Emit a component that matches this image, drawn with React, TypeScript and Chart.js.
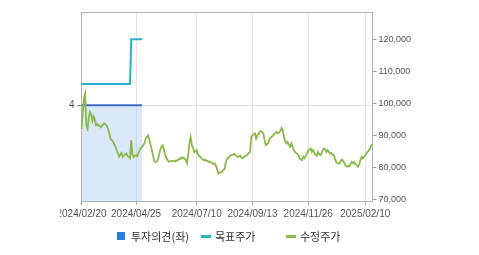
import React, { useEffect, useRef } from "react";
import { Chart, registerables } from "chart.js";

Chart.register(...registerables);

// ---- data ----
const startDate = "2024-02-20";
const dayCount = 241;
const holidays = [
  "2024-03-01", "2024-04-10", "2024-05-01", "2024-05-06", "2024-05-15", "2024-06-06",
  "2024-08-15", "2024-09-16", "2024-09-17", "2024-09-18", "2024-10-01", "2024-10-03",
  "2024-10-09", "2024-12-25", "2024-12-31", "2025-01-01", "2025-01-27", "2025-01-28",
  "2025-01-29", "2025-01-30",
];
const xTickLabels = ["2024/02/20", "2024/04/25", "2024/07/10", "2024/09/13", "2024/11/26", "2025/02/10"];
const rightTicks = [70000, 80000, 90000, 100000, 110000, 120000];
const leftTicks = [4];

// 수정주가 (adjusted close), one value per trading day
const adjPrice = [
  92000, 97000, 101500, 103000, 93000, 92000, 95500, 97300, 96500, 94500,
  95800, 95000, 93200, 93500, 93000, 93000, 92500, 93000, 93500, 93800,
  93300, 93000, 91800, 90500, 88800, 88500, 88000, 87200, 86500, 85400,
  84500, 83300, 84000, 84500, 83300, 83800, 84000, 84300, 83500, 83300,
  82800, 88500, 84000, 83200, 83600, 83800, 83500, 84500, 85400, 86000,
  86400, 87000, 87500, 89100, 89500, 90000, 88500, 87000, 85500, 83800,
  82000, 81700, 81800, 82500, 84000, 85500, 86500, 86900, 85500, 84000,
  83000, 82300, 81800, 82000, 81800, 82000, 82000, 81800, 82200, 82000,
  82500, 82800, 82600, 83200, 83000, 82700, 82400, 81300, 84000, 87500,
  89500, 87000, 86000, 84800, 85000, 85400, 84000, 83500, 83300, 82800,
  82500, 82200, 82400, 82000, 82000, 81700, 81800, 81500, 81300, 81000,
  81200, 80500, 79100, 78100, 78300, 78500, 78700, 79200, 79500, 81500,
  82500, 83000, 83300, 83800, 84000, 84000, 84200, 83800, 83500, 83200,
  83500, 83600, 83000, 82800, 83300, 83500, 83700, 84000, 84500, 84800,
  89500, 90000, 90300, 90600, 89000, 90000, 90600, 91100, 91400, 91000,
  90500, 88500, 86900, 87200, 87600, 88800, 89200, 89600, 90000, 90400,
  90700, 91100, 90600, 90900, 91300, 92200, 91600, 89500, 88200, 87500,
  88000, 87000, 86400, 87500, 86500, 85400, 84800, 84500, 84300, 83800,
  82800, 82400, 82300, 83300, 82800, 83600, 84300, 85400, 85600, 85900,
  84800, 85400, 84500, 83800, 83600, 84800, 84200, 83800, 84300, 85400,
  85900, 85600, 84800, 85400, 84800, 84300, 84500, 84000, 83800, 82800,
  81700, 81400, 81200, 81300, 82200, 82400, 81800, 81200, 80400, 80200,
  80500, 80400, 81200, 81700, 81200, 81700, 81000, 80700, 80200, 80800,
  82200, 83300, 82800, 83300, 83800, 84300, 84800, 85400, 85900, 86900,
  87200,
];

// 목표주가 (target price) segments: [fromIndex, toIndex, value]
const targetSegments: [number, number, number][] = [
  [0, 40, 106000],
  [41, 50, 120000],
];
// 투자의견 (opinion, left axis) segments
const opinionSegments: [number, number, number][] = [[0, 50, 4]];

// ---- helpers ----
function buildTradingDays(start: string, count: number): string[] {
  const out: string[] = [];
  const d = new Date(start + "T00:00:00Z");
  while (out.length < count) {
    const dow = d.getUTCDay();
    const iso = d.toISOString().slice(0, 10);
    if (dow !== 0 && dow !== 6 && !holidays.includes(iso)) out.push(iso.replace(/-/g, "/"));
    d.setUTCDate(d.getUTCDate() + 1);
  }
  return out;
}

function fromSegments(segs: [number, number, number][], n: number): (number | null)[] {
  const arr: (number | null)[] = new Array(n).fill(null);
  segs.forEach(([a, b, v]) => {
    for (let i = a; i <= b; i++) arr[i] = v;
  });
  return arr;
}

const legendItems = [
  { label: "투자의견(좌)", color: "#2d7be0", kind: "box", left: 117 },
  { label: "목표주가", color: "#22b3c6", kind: "line", left: 201 },
  { label: "수정주가", color: "#8cb84a", kind: "line", left: 286 },
];

const framePlugin = {
  id: "frameTop",
  afterDraw(chart: any) {
    const { ctx, chartArea } = chart;
    ctx.save();
    ctx.strokeStyle = "#b4b4b4";
    ctx.lineWidth = 1;
    ctx.beginPath();
    ctx.moveTo(chartArea.left, Math.floor(chartArea.top) + 0.5);
    ctx.lineTo(chartArea.right, Math.floor(chartArea.top) + 0.5);
    ctx.stroke();
    ctx.restore();
  },
};

const CLIP_LEFT = 60;

export default function App() {
  const canvasRef = useRef<HTMLCanvasElement | null>(null);

  useEffect(() => {
    if (!canvasRef.current) return;
    const labels = buildTradingDays(startDate, dayCount);
    const tickIdx = xTickLabels.map((l) => labels.indexOf(l)).filter((i) => i >= 0);
    const target = fromSegments(targetSegments, dayCount);
    const opinion = fromSegments(opinionSegments, dayCount);
    const tickFont = { family: "'Liberation Sans', Arial, sans-serif", size: 10 };

    const chart = new Chart(canvasRef.current, {
      type: "line",
      data: {
        labels,
        datasets: [
          {
            label: "수정주가",
            data: adjPrice,
            yAxisID: "y",
            borderColor: "#8cb84a",
            borderWidth: 1.8,
            pointRadius: 0,
            tension: 0,
            fill: false,
          },
          {
            label: "목표주가",
            data: target,
            yAxisID: "y",
            borderColor: "#22b3c6",
            borderWidth: 2,
            pointRadius: 0,
            tension: 0,
            fill: false,
            spanGaps: false,
          },
          {
            label: "투자의견(좌)",
            data: opinion,
            yAxisID: "y1",
            borderColor: "#3a6dc2",
            backgroundColor: "rgba(120,170,235,0.27)",
            borderWidth: 2,
            pointRadius: 0,
            tension: 0,
            fill: "start",
            spanGaps: false,
          },
        ],
      },
      options: {
        responsive: false,
        animation: false,
        layout: { padding: { left: 0, right: 0, top: 12, bottom: 0 } },
        plugins: { legend: { display: false }, tooltip: { enabled: false } },
        scales: {
          x: {
            type: "category",
            grid: { color: "#e6e6e6", tickColor: "#aaaaaa", tickLength: 4, drawOnChartArea: true },
            border: { color: "#b4b4b4" },
            ticks: { autoSkip: false, maxRotation: 0, color: "#555", font: tickFont, padding: 3 },
            afterBuildTicks: (scale: any) => {
              scale.ticks = tickIdx.map((v) => ({ value: v }));
            },
            afterFit: (scale: any) => {
              scale.height = 54;
            },
          },
          y1: {
            type: "linear",
            position: "left",
            min: 0,
            max: 7.9,
            grid: { color: "#e3e3e3", tickColor: "#999", tickLength: 5 },
            border: { color: "#b4b4b4" },
            ticks: { color: "#555", font: tickFont, padding: 2 },
            afterBuildTicks: (scale: any) => {
              scale.ticks = leftTicks.map((v) => ({ value: v }));
            },
            afterFit: (scale: any) => {
              scale.width = 81.5;
            },
          },
          y: {
            type: "linear",
            position: "right",
            min: 69500,
            max: 128500,
            grid: { drawOnChartArea: false, tickColor: "#999", tickLength: 4 },
            border: { color: "#b4b4b4" },
            ticks: {
              color: "#555",
              font: { family: "'Liberation Sans', Arial, sans-serif", size: 9 },
              padding: 2,
              callback: (v: any) => Number(v).toLocaleString("en-US"),
            },
            afterBuildTicks: (scale: any) => {
              scale.ticks = rightTicks.map((v) => ({ value: v }));
            },
            afterFit: (scale: any) => {
              scale.width = 106.5;
            },
          },
        },
      },
      plugins: [framePlugin],
    });
    return () => chart.destroy();
  }, []);

  return (
    <div style={{ position: "absolute", left: 0, top: 0, width: 479, height: 255, background: "#fff", overflow: "hidden" }}>
      <div style={{ position: "absolute", left: CLIP_LEFT, top: 0, width: 479 - CLIP_LEFT, height: 255, overflow: "hidden" }}>
        <canvas
          ref={canvasRef}
          width={479}
          height={255}
          style={{ display: "block", position: "absolute", left: -CLIP_LEFT, top: 0 }}
        />
      </div>
      {legendItems.map((it) => (
        <div
          key={it.label}
          style={{
            position: "absolute",
            left: it.left,
            top: 229,
            height: 14,
            display: "flex",
            alignItems: "center",
            fontFamily: "'Noto Sans CJK KR', 'Noto Sans', sans-serif",
            fontSize: 11,
            lineHeight: "14px",
            color: "#333",
            whiteSpace: "nowrap",
          }}
        >
          {it.kind === "box" ? (
            <span style={{ display: "inline-block", width: 8, height: 8, background: it.color, marginRight: 6 }} />
          ) : (
            <span style={{ display: "inline-block", width: 10, height: 3, background: it.color, marginRight: 4 }} />
          )}
          <span>{it.label}</span>
        </div>
      ))}
    </div>
  );
}
